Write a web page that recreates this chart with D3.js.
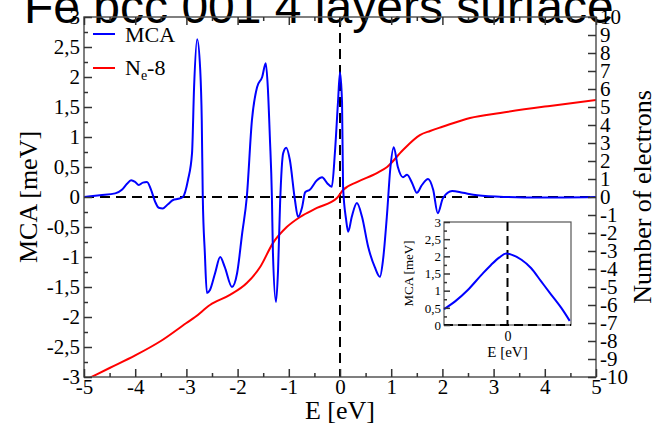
<!DOCTYPE html>
<html>
<head>
<meta charset="utf-8">
<script src="https://cdn.jsdelivr.net/npm/d3@7"></script>
<style>
  html, body { margin: 0; padding: 0; background: #fff; overflow: hidden; }
  svg { display: block; }
</style>
</head>
<body>
<svg id="chart" width="657" height="426"></svg>
<script>
// Magnetocrystalline anisotropy (MCA) vs band energy, with the electron count N_e - 8
const mcaE = [-5.0, -4.69, -4.39, -4.26, -4.16, -4.08, -4.0, -3.93, -3.85, -3.77, -3.69, -3.61, -3.54, -3.46, -3.36, -3.26, -3.16, -3.07,
  -2.97, -2.89, -2.85, -2.79, -2.73, -2.70, -2.68, -2.64, -2.60, -2.54, -2.44, -2.34, -2.25, -2.11, -2.01, -1.91, -1.82,
  -1.72, -1.62, -1.52, -1.45, -1.41, -1.37, -1.33, -1.31, -1.25, -1.21, -1.17, -1.11, -1.05, -0.98, -0.88, -0.82, -0.74,
  -0.68, -0.59, -0.45, -0.35, -0.25, -0.16, -0.10, -0.04, 0.0, 0.04, 0.06, 0.12, 0.16, 0.23, 0.33, 0.43, 0.55, 0.68, 0.78,
  0.84, 0.92, 0.98, 1.05, 1.13, 1.23, 1.31, 1.41, 1.50, 1.60, 1.72, 1.82, 1.91, 2.01, 2.19, 2.40, 2.68, 3.26, 3.91, 5.0];
const mcaVal = [0.0, 0.03, 0.06, 0.12, 0.22, 0.28, 0.25, 0.20, 0.24, 0.25, 0.12, -0.08, -0.18, -0.19, -0.12, -0.05, -0.03, 0.0,
  0.28, 0.73, 1.83, 2.63, 2.12, 1.28, 0.0, -0.93, -1.6, -1.55, -1.27, -1.0, -1.17, -1.5, -1.27, -0.6, 0.0,
  1.28, 1.83, 2.0, 2.23, 1.83, 1.0, 0.0, -0.93, -1.75, -1.22, -0.1, 0.73, 0.82, 0.62, -0.05, -0.33, -0.17,
  0.08, 0.12, 0.28, 0.33, 0.23, 0.17, 0.73, 1.57, 2.08, 1.57, 0.17, -0.38, -0.58, -0.33, -0.1, -0.33, -0.83, -1.17, -1.33,
  -1.05, -0.27, 0.45, 0.83, 0.5, 0.33, 0.37, 0.23, 0.07, 0.2, 0.3, 0.12, -0.27, -0.02, 0.1, 0.07, 0.03, 0.0, -0.01, 0.0];

const neE = [-5.0, -4.5, -4.0, -3.5, -3.0, -2.83, -2.54, -2.15, -1.82, -1.56, -1.31, -1.04, -0.78, -0.45, -0.06, 0.06, 0.33,
  0.72, 0.92, 1.23, 1.56, 1.76, 2.0, 2.54, 3.13, 4.1, 5.0];
const neVal = [-10.2, -9.5, -8.8, -8.0, -7.0, -6.67, -6.0, -5.44, -4.78, -3.89, -2.56, -1.67, -1.11, -0.61, -0.06, 0.39, 0.83,
  1.33, 1.67, 2.61, 3.44, 3.67, 3.9, 4.39, 4.67, 5.06, 5.39];

// close-up of the peak at the Fermi level
const zoomE = [-0.1, -0.083, -0.0625, -0.041, -0.026, -0.0126, -0.002, 0.006, 0.022, 0.037, 0.053, 0.069, 0.085, 0.098];
const zoomVal = [0.46, 0.68, 1.02, 1.46, 1.75, 1.97, 2.08, 2.05, 1.9, 1.66, 1.27, 0.88, 0.49, 0.12];

const xTicks = [-5, -4, -3, -2, -1, 0, 1, 2, 3, 4, 5];
const yLeftTicks = [-3, -2.5, -2, -1.5, -1, -0.5, 0, 0.5, 1, 1.5, 2, 2.5, 3];
const yRightTicks = d3.range(-10, 11, 1);
const insetYTicks = [0, 0.5, 1, 1.5, 2, 2.5, 3];

const titleText = "Fe bcc 001 4 layers surface";

const serif = "'Liberation Serif', 'Times New Roman', serif";
const comma = v => String(v).replace(".", ",");

const svg = d3.select("#chart");
const L = 84, R = 596, T = 17, B = 377;

const x = d3.scaleLinear().domain([-5, 5]).range([L, R]);
const yL = d3.scaleLinear().domain([-3, 3]).range([B, T]);
const yR = d3.scaleLinear().domain([-10, 10]).range([B, T]);

// title (runs off the top edge)
svg.append("text").attr("x", 24).attr("y", 23)
  .attr("font-family", "'Liberation Sans', Arial, sans-serif").attr("font-size", 48)
  .attr("fill", "#000").text(titleText);

svg.append("defs").append("clipPath").attr("id", "plotclip")
  .append("rect").attr("x", L).attr("y", T).attr("width", R - L).attr("height", B - T);

const plot = svg.append("g").attr("clip-path", "url(#plotclip)");

// zero reference lines
plot.append("line").attr("x1", L).attr("x2", R).attr("y1", yL(0)).attr("y2", yL(0))
  .attr("stroke", "#000").attr("stroke-width", 2).attr("stroke-dasharray", "10,6");
plot.append("line").attr("x1", x(0)).attr("x2", x(0)).attr("y1", T).attr("y2", B)
  .attr("stroke", "#000").attr("stroke-width", 2).attr("stroke-dasharray", "10,6");

const mcaPts = mcaE.map((e, i) => [e, mcaVal[i]]);
const nePts = neE.map((e, i) => [e, neVal[i]]);

plot.append("path").datum(nePts)
  .attr("d", d3.line().x(d => x(d[0])).y(d => yR(d[1])).curve(d3.curveMonotoneX))
  .attr("fill", "none").attr("stroke", "#ff0000").attr("stroke-width", 2);
plot.append("path").datum(mcaPts)
  .attr("d", d3.line().x(d => x(d[0])).y(d => yL(d[1])).curve(d3.curveMonotoneX))
  .attr("fill", "none").attr("stroke", "#0000ff").attr("stroke-width", 2);

// frame
svg.append("rect").attr("x", L).attr("y", T).attr("width", R - L).attr("height", B - T)
  .attr("fill", "none").attr("stroke", "#555").attr("stroke-width", 1.5);

function styleAxis(g, size) {
  g.select(".domain").remove();
  g.selectAll(".tick line").attr("stroke", "#333").attr("stroke-width", 1.5);
  g.selectAll("text").attr("font-family", serif).attr("font-size", size).attr("fill", "#000");
}

const tickFont = 21;

// bottom axis
const minorX = d3.range(-4.5, 5, 1);
svg.append("g").attr("transform", `translate(0,${B})`)
  .call(d3.axisBottom(x).tickValues(minorX).tickSize(-4).tickFormat(""))
  .call(g => styleAxis(g, tickFont));
svg.append("g").attr("transform", `translate(0,${B})`)
  .call(d3.axisBottom(x).tickValues(xTicks).tickSize(-8).tickPadding(2).tickFormat(d => String(d)))
  .call(g => styleAxis(g, tickFont));
// top axis (ticks only)
svg.append("g").attr("transform", `translate(0,${T})`)
  .call(d3.axisTop(x).tickValues(minorX).tickSize(-4).tickFormat(""))
  .call(g => styleAxis(g, tickFont));
svg.append("g").attr("transform", `translate(0,${T})`)
  .call(d3.axisTop(x).tickValues(xTicks).tickSize(-8).tickFormat(""))
  .call(g => styleAxis(g, tickFont));

// left axis
const minorYL = d3.range(-2.75, 3, 0.5);
svg.append("g").attr("transform", `translate(${L},0)`)
  .call(d3.axisLeft(yL).tickValues(minorYL).tickSize(-4).tickFormat(""))
  .call(g => styleAxis(g, tickFont));
svg.append("g").attr("transform", `translate(${L},0)`)
  .call(d3.axisLeft(yL).tickValues(yLeftTicks).tickSize(-8).tickPadding(4).tickFormat(comma))
  .call(g => styleAxis(g, tickFont));

// right axis
svg.append("g").attr("transform", `translate(${R},0)`)
  .call(d3.axisRight(yR).tickValues(yRightTicks).tickSize(-8).tickPadding(4).tickFormat(d => String(d)))
  .call(g => styleAxis(g, tickFont));

// axis titles
svg.append("text").attr("x", x(0)).attr("y", 419).attr("text-anchor", "middle")
  .attr("font-family", serif).attr("font-size", 26).text("E [eV]");
svg.append("text").attr("transform", `translate(37,${(T + B) / 2}) rotate(-90)`).attr("text-anchor", "middle")
  .attr("font-family", serif).attr("font-size", 26).text("MCA [meV]");
svg.append("text").attr("transform", `translate(651,${(T + B) / 2}) rotate(-90)`).attr("text-anchor", "middle")
  .attr("font-family", serif).attr("font-size", 26).text("Number of electrons");

// legend
const leg = svg.append("g").attr("font-family", serif).attr("font-size", 22);
leg.append("line").attr("x1", 93).attr("x2", 115).attr("y1", 34).attr("y2", 34).attr("stroke", "#0000ff").attr("stroke-width", 2);
leg.append("text").attr("x", 125).attr("y", 42).text("MCA");
leg.append("line").attr("x1", 93).attr("x2", 115).attr("y1", 68).attr("y2", 68).attr("stroke", "#ff0000").attr("stroke-width", 2);
const ne = leg.append("text").attr("x", 125).attr("y", 75);
ne.append("tspan").text("N");
ne.append("tspan").attr("font-size", 14).attr("dy", 5).text("e");
ne.append("tspan").attr("dy", -5).text("-8");

// inset
const iL = 444, iR = 571, iT = 222, iB = 325;
const ix = d3.scaleLinear().domain([-0.1, 0.1]).range([iL, iR]);
const iy = d3.scaleLinear().domain([0, 3]).range([iB, iT]);
const inset = svg.append("g");
inset.append("rect").attr("x", iL).attr("y", iT).attr("width", iR - iL).attr("height", iB - iT)
  .attr("fill", "#fff").attr("stroke", "#555").attr("stroke-width", 1.2);
inset.append("line").attr("x1", iL).attr("x2", iR).attr("y1", iy(0)).attr("y2", iy(0))
  .attr("stroke", "#000").attr("stroke-width", 2).attr("stroke-dasharray", "9,5");
inset.append("line").attr("x1", ix(0)).attr("x2", ix(0)).attr("y1", iT).attr("y2", iB)
  .attr("stroke", "#000").attr("stroke-width", 2).attr("stroke-dasharray", "9,5");
inset.append("path").datum(zoomE.map((e, i) => [e, zoomVal[i]]))
  .attr("d", d3.line().x(d => ix(d[0])).y(d => iy(d[1])).curve(d3.curveMonotoneX))
  .attr("fill", "none").attr("stroke", "#0000ff").attr("stroke-width", 2);
inset.append("g").attr("transform", `translate(${iL},0)`)
  .call(d3.axisLeft(iy).tickValues(d3.range(0.25, 3, 0.5)).tickSize(-3).tickFormat(""))
  .call(g => styleAxis(g, 13));
inset.append("g").attr("transform", `translate(${iL},0)`)
  .call(d3.axisLeft(iy).tickValues(insetYTicks).tickSize(-6).tickPadding(3).tickFormat(comma))
  .call(g => styleAxis(g, 13));
inset.append("g").attr("transform", `translate(0,${iB})`)
  .call(d3.axisBottom(ix).tickValues([0]).tickSize(0).tickPadding(6).tickFormat(d => String(d)))
  .call(g => styleAxis(g, 14));
inset.append("text").attr("x", ix(0)).attr("y", 357).attr("text-anchor", "middle")
  .attr("font-family", serif).attr("font-size", 15).text("E [eV]");
inset.append("text").attr("transform", `translate(413,${(iT + iB) / 2}) rotate(-90)`).attr("text-anchor", "middle")
  .attr("font-family", serif).attr("font-size", 13).text("MCA [meV]");
</script>
</body>
</html>
